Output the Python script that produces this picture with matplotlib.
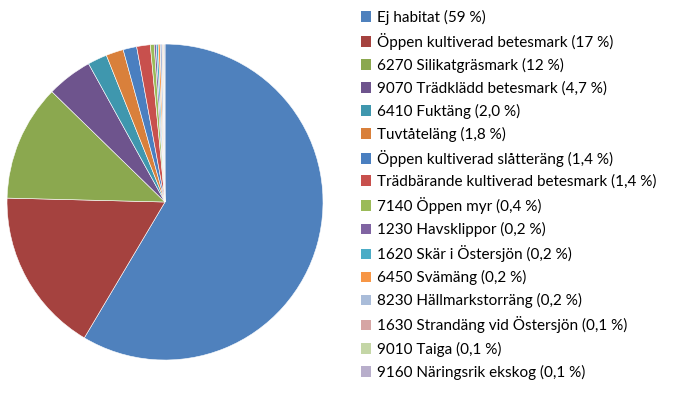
import matplotlib
matplotlib.use("Agg")
import matplotlib.pyplot as plt
from matplotlib.patches import Patch

labels = ["Ej habitat (59 %)", "Öppen kultiverad betesmark (17 %)", "6270 Silikatgräsmark (12 %)",
          "9070 Trädklädd betesmark (4,7 %)", "6410 Fuktäng (2,0 %)", "Tuvtåteläng (1,8 %)",
          "Öppen kultiverad slåtteräng (1,4 %)", "Trädbärande kultiverad betesmark (1,4 %)",
          "7140 Öppen myr (0,4 %)", "1230 Havsklippor (0,2 %)", "1620 Skär i Östersjön (0,2 %)",
          "6450 Svämäng (0,2 %)", "8230 Hällmarkstorräng (0,2 %)", "1630 Strandäng vid Östersjön (0,1 %)",
          "9010 Taiga (0,1 %)", "9160 Näringsrik ekskog (0,1 %)"]
values = [59, 17, 12, 4.7, 2.0, 1.8, 1.4, 1.4, 0.4, 0.2, 0.2, 0.2, 0.2, 0.1, 0.1, 0.1]
colors = ["#4F81BD", "#A5423F", "#8BA84F", "#6E548D", "#3F97AE", "#D9803B",
          "#4A7FC0", "#C8504D", "#9BBB59", "#8064A2", "#4BACC6", "#F79646",
          "#A9BCD9", "#D6A5A4", "#C4D6A6", "#B8AECB"]

plt.rcParams['font.family'] = ['Lato', 'DejaVu Sans']
fig = plt.figure(figsize=(6.88, 4.01), dpi=100)
ax = fig.add_axes([0.0102, 0.1022, 0.4593, 0.788])
ax.pie(values, colors=colors, startangle=90, counterclock=False,
       wedgeprops=dict(edgecolor="white", linewidth=0.4))
ax.set_xlim(-1, 1)
ax.set_ylim(-1, 1)
ax.set_aspect("equal")

handles = [Patch(facecolor=c, edgecolor="none") for c in colors]
fig.legend(handles, labels, loc="upper left", bbox_to_anchor=(0.524, 0.975),
           frameon=False, fontsize=11.0, handlelength=0.7, handleheight=0.7,
           handletextpad=0.35, labelspacing=0.525, borderaxespad=0, borderpad=0)
fig.savefig("out.png", dpi=100)
